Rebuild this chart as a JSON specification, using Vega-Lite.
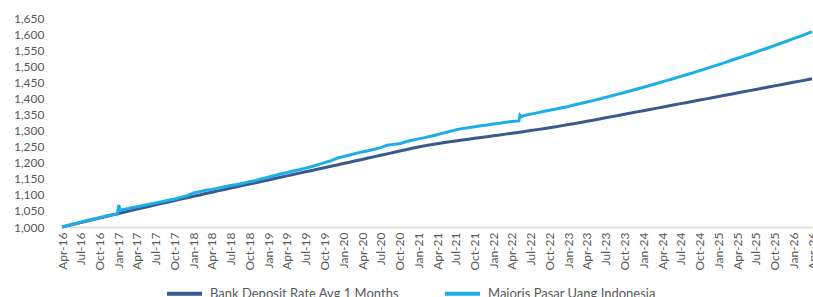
{
  "$schema": "https://vega.github.io/schema/vega-lite/v6.json",
  "width": 750,
  "height": 209,
  "autosize": {"type": "none"},
  "padding": {"left": 62, "top": 18, "right": 1, "bottom": 70},
  "background": "white",
  "config": {
    "view": {"stroke": null},
    "font": "Lato",
    "axis": {"labelFont": "Lato", "labelColor": "#595959", "grid": false},
    "legend": {"labelFont": "Lato"}
  },
  "data": {
    "values": [
      {"d":"2016/04/01","s":"B","v":1000},{"d":"2016/05/01","s":"B","v":1004.7},{"d":"2016/06/01","s":"B","v":1009.3},{"d":"2016/07/01","s":"B","v":1014},{"d":"2016/08/01","s":"B","v":1018.7},{"d":"2016/09/01","s":"B","v":1023.3},{"d":"2016/10/01","s":"B","v":1028},{"d":"2016/11/01","s":"B","v":1032.7},{"d":"2016/12/01","s":"B","v":1037.3},
      {"d":"2017/01/01","s":"B","v":1042},{"d":"2017/02/01","s":"B","v":1046.5},{"d":"2017/03/01","s":"B","v":1051},{"d":"2017/04/01","s":"B","v":1055.5},{"d":"2017/05/01","s":"B","v":1060},{"d":"2017/06/01","s":"B","v":1064.5},{"d":"2017/07/01","s":"B","v":1069},{"d":"2017/08/01","s":"B","v":1073.5},{"d":"2017/09/01","s":"B","v":1078},{"d":"2017/10/01","s":"B","v":1082.5},{"d":"2017/11/01","s":"B","v":1087},{"d":"2017/12/01","s":"B","v":1091.2},
      {"d":"2018/01/01","s":"B","v":1095.5},{"d":"2018/02/01","s":"B","v":1099.7},{"d":"2018/03/01","s":"B","v":1104},{"d":"2018/04/01","s":"B","v":1108.2},{"d":"2018/05/01","s":"B","v":1112.4},{"d":"2018/06/01","s":"B","v":1116.7},{"d":"2018/07/01","s":"B","v":1120.9},{"d":"2018/08/01","s":"B","v":1125.2},{"d":"2018/09/01","s":"B","v":1129.4},{"d":"2018/10/01","s":"B","v":1133.6},{"d":"2018/11/01","s":"B","v":1137.9},{"d":"2018/12/01","s":"B","v":1142.1},
      {"d":"2019/01/01","s":"B","v":1146.4},{"d":"2019/02/01","s":"B","v":1150.6},{"d":"2019/03/01","s":"B","v":1154.8},{"d":"2019/04/01","s":"B","v":1159.1},{"d":"2019/05/01","s":"B","v":1163.3},{"d":"2019/06/01","s":"B","v":1167.6},{"d":"2019/07/01","s":"B","v":1171.8},{"d":"2019/08/01","s":"B","v":1176},{"d":"2019/09/01","s":"B","v":1180.3},{"d":"2019/10/01","s":"B","v":1184.5},{"d":"2019/11/01","s":"B","v":1188.8},{"d":"2019/12/01","s":"B","v":1193},
      {"d":"2020/01/01","s":"B","v":1197.3},{"d":"2020/02/01","s":"B","v":1201.6},{"d":"2020/03/01","s":"B","v":1205.9},{"d":"2020/04/01","s":"B","v":1210.2},{"d":"2020/05/01","s":"B","v":1214.5},{"d":"2020/06/01","s":"B","v":1218.8},{"d":"2020/07/01","s":"B","v":1223.2},{"d":"2020/08/01","s":"B","v":1227.5},{"d":"2020/09/01","s":"B","v":1231.8},{"d":"2020/10/01","s":"B","v":1236.1},{"d":"2020/11/01","s":"B","v":1240.4},{"d":"2020/12/01","s":"B","v":1244.7},
      {"d":"2021/01/01","s":"B","v":1249},{"d":"2021/02/01","s":"B","v":1252.5},{"d":"2021/03/01","s":"B","v":1255.8},{"d":"2021/04/01","s":"B","v":1258.9},{"d":"2021/05/01","s":"B","v":1261.9},{"d":"2021/06/01","s":"B","v":1264.8},{"d":"2021/07/01","s":"B","v":1267.6},{"d":"2021/08/01","s":"B","v":1270.4},{"d":"2021/09/01","s":"B","v":1273.1},{"d":"2021/10/01","s":"B","v":1275.8},{"d":"2021/11/01","s":"B","v":1278.4},{"d":"2021/12/01","s":"B","v":1281},
      {"d":"2022/01/01","s":"B","v":1283.6},{"d":"2022/02/01","s":"B","v":1286.2},{"d":"2022/03/01","s":"B","v":1288.8},{"d":"2022/04/01","s":"B","v":1291.4},{"d":"2022/05/01","s":"B","v":1294.1},{"d":"2022/06/01","s":"B","v":1296.9},{"d":"2022/07/01","s":"B","v":1299.8},{"d":"2022/08/01","s":"B","v":1302.8},{"d":"2022/09/01","s":"B","v":1305.8},{"d":"2022/10/01","s":"B","v":1308.9},{"d":"2022/11/01","s":"B","v":1312.1},{"d":"2022/12/01","s":"B","v":1315.3},
      {"d":"2023/01/01","s":"B","v":1318.6},{"d":"2023/02/01","s":"B","v":1321.9},{"d":"2023/03/01","s":"B","v":1325.3},{"d":"2023/04/01","s":"B","v":1328.8},{"d":"2023/05/01","s":"B","v":1332.3},{"d":"2023/06/01","s":"B","v":1335.9},{"d":"2023/07/01","s":"B","v":1339.6},{"d":"2023/08/01","s":"B","v":1343.3},{"d":"2023/09/01","s":"B","v":1347},{"d":"2023/10/01","s":"B","v":1350.6},{"d":"2023/11/01","s":"B","v":1354.3},{"d":"2023/12/01","s":"B","v":1358},
      {"d":"2024/01/01","s":"B","v":1361.7},{"d":"2024/02/01","s":"B","v":1365.3},{"d":"2024/03/01","s":"B","v":1369},{"d":"2024/04/01","s":"B","v":1372.7},{"d":"2024/05/01","s":"B","v":1376.4},{"d":"2024/06/01","s":"B","v":1380},{"d":"2024/07/01","s":"B","v":1383.7},{"d":"2024/08/01","s":"B","v":1387.4},{"d":"2024/09/01","s":"B","v":1391.1},{"d":"2024/10/01","s":"B","v":1394.8},{"d":"2024/11/01","s":"B","v":1398.4},{"d":"2024/12/01","s":"B","v":1402.1},
      {"d":"2025/01/01","s":"B","v":1405.8},{"d":"2025/02/01","s":"B","v":1409.5},{"d":"2025/03/01","s":"B","v":1413.1},{"d":"2025/04/01","s":"B","v":1416.8},{"d":"2025/05/01","s":"B","v":1420.5},{"d":"2025/06/01","s":"B","v":1424.2},{"d":"2025/07/01","s":"B","v":1427.8},{"d":"2025/08/01","s":"B","v":1431.5},{"d":"2025/09/01","s":"B","v":1435.2},{"d":"2025/10/01","s":"B","v":1438.9},{"d":"2025/11/01","s":"B","v":1442.5},{"d":"2025/12/01","s":"B","v":1446.2},
      {"d":"2026/01/01","s":"B","v":1449.9},{"d":"2026/02/01","s":"B","v":1453.6},{"d":"2026/03/01","s":"B","v":1457.3},{"d":"2026/04/01","s":"B","v":1461},

      {"d":"2016/04/01","s":"M","v":1000},{"d":"2016/05/01","s":"M","v":1005},{"d":"2016/06/01","s":"M","v":1010},{"d":"2016/07/01","s":"M","v":1015},{"d":"2016/08/01","s":"M","v":1020},{"d":"2016/09/01","s":"M","v":1025},{"d":"2016/10/01","s":"M","v":1029},{"d":"2016/11/01","s":"M","v":1034},{"d":"2016/12/01","s":"M","v":1038},
      {"d":"2016/12/26","s":"M","v":1040},{"d":"2017/01/03","s":"M","v":1068},{"d":"2017/01/08","s":"M","v":1052},
      {"d":"2017/02/01","s":"M","v":1055},{"d":"2017/03/01","s":"M","v":1059},{"d":"2017/04/01","s":"M","v":1063},{"d":"2017/05/01","s":"M","v":1067},{"d":"2017/06/01","s":"M","v":1071},{"d":"2017/07/01","s":"M","v":1075},{"d":"2017/08/01","s":"M","v":1079},{"d":"2017/09/01","s":"M","v":1083},{"d":"2017/10/01","s":"M","v":1087},{"d":"2017/11/01","s":"M","v":1092},{"d":"2017/12/01","s":"M","v":1097},
      {"d":"2018/01/01","s":"M","v":1106},{"d":"2018/02/01","s":"M","v":1110},{"d":"2018/03/01","s":"M","v":1114},{"d":"2018/04/01","s":"M","v":1117},{"d":"2018/05/01","s":"M","v":1121},{"d":"2018/06/01","s":"M","v":1125},{"d":"2018/07/01","s":"M","v":1129},{"d":"2018/08/01","s":"M","v":1132},{"d":"2018/09/01","s":"M","v":1136},{"d":"2018/10/01","s":"M","v":1141},{"d":"2018/11/01","s":"M","v":1145},{"d":"2018/12/01","s":"M","v":1150},
      {"d":"2019/01/01","s":"M","v":1155},{"d":"2019/02/01","s":"M","v":1160},{"d":"2019/03/01","s":"M","v":1165},{"d":"2019/04/01","s":"M","v":1169},{"d":"2019/05/01","s":"M","v":1174},{"d":"2019/06/01","s":"M","v":1178},{"d":"2019/07/01","s":"M","v":1183},{"d":"2019/08/01","s":"M","v":1188},{"d":"2019/09/01","s":"M","v":1194},{"d":"2019/10/01","s":"M","v":1200},{"d":"2019/11/01","s":"M","v":1206},{"d":"2019/12/01","s":"M","v":1214},
      {"d":"2020/01/01","s":"M","v":1219},{"d":"2020/02/01","s":"M","v":1224},{"d":"2020/03/01","s":"M","v":1229},{"d":"2020/04/01","s":"M","v":1233},{"d":"2020/05/01","s":"M","v":1237},{"d":"2020/06/01","s":"M","v":1242},{"d":"2020/07/01","s":"M","v":1247},{"d":"2020/08/01","s":"M","v":1254},{"d":"2020/09/01","s":"M","v":1257},{"d":"2020/10/01","s":"M","v":1259},{"d":"2020/11/01","s":"M","v":1265},{"d":"2020/12/01","s":"M","v":1270},
      {"d":"2021/01/01","s":"M","v":1274},{"d":"2021/02/01","s":"M","v":1278},{"d":"2021/03/01","s":"M","v":1282},{"d":"2021/04/01","s":"M","v":1287},{"d":"2021/05/01","s":"M","v":1292},{"d":"2021/06/01","s":"M","v":1297},{"d":"2021/07/01","s":"M","v":1302},{"d":"2021/08/01","s":"M","v":1306},{"d":"2021/09/01","s":"M","v":1309},{"d":"2021/10/01","s":"M","v":1312},{"d":"2021/11/01","s":"M","v":1315},{"d":"2021/12/01","s":"M","v":1317},
      {"d":"2022/01/01","s":"M","v":1320},{"d":"2022/02/01","s":"M","v":1323},{"d":"2022/03/01","s":"M","v":1326},{"d":"2022/04/01","s":"M","v":1328},{"d":"2022/05/05","s":"M","v":1330},{"d":"2022/05/10","s":"M","v":1348},{"d":"2022/05/18","s":"M","v":1343},
      {"d":"2022/06/01","s":"M","v":1347},{"d":"2022/07/01","s":"M","v":1351},{"d":"2022/08/01","s":"M","v":1355},{"d":"2022/09/01","s":"M","v":1359},{"d":"2022/10/01","s":"M","v":1363},{"d":"2022/11/01","s":"M","v":1367},{"d":"2022/12/01","s":"M","v":1371},
      {"d":"2023/01/01","s":"M","v":1375},{"d":"2023/02/01","s":"M","v":1380},{"d":"2023/03/01","s":"M","v":1384},{"d":"2023/04/01","s":"M","v":1389},{"d":"2023/05/01","s":"M","v":1393},{"d":"2023/06/01","s":"M","v":1398},{"d":"2023/07/01","s":"M","v":1403},{"d":"2023/08/01","s":"M","v":1408.1},{"d":"2023/09/01","s":"M","v":1413.2},{"d":"2023/10/01","s":"M","v":1418.4},{"d":"2023/11/01","s":"M","v":1423.7},{"d":"2023/12/01","s":"M","v":1429.1},
      {"d":"2024/01/01","s":"M","v":1434.5},{"d":"2024/02/01","s":"M","v":1440},{"d":"2024/03/01","s":"M","v":1445.5},{"d":"2024/04/01","s":"M","v":1451.2},{"d":"2024/05/01","s":"M","v":1456.9},{"d":"2024/06/01","s":"M","v":1462.6},{"d":"2024/07/01","s":"M","v":1468.5},{"d":"2024/08/01","s":"M","v":1474.4},{"d":"2024/09/01","s":"M","v":1480.3},{"d":"2024/10/01","s":"M","v":1486.4},{"d":"2024/11/01","s":"M","v":1492.5},{"d":"2024/12/01","s":"M","v":1498.7},
      {"d":"2025/01/01","s":"M","v":1505},{"d":"2025/02/01","s":"M","v":1511.3},{"d":"2025/03/01","s":"M","v":1517.7},{"d":"2025/04/01","s":"M","v":1524.2},{"d":"2025/05/01","s":"M","v":1530.7},{"d":"2025/06/01","s":"M","v":1537.3},{"d":"2025/07/01","s":"M","v":1544},{"d":"2025/08/01","s":"M","v":1550.8},{"d":"2025/09/01","s":"M","v":1557.6},{"d":"2025/10/01","s":"M","v":1564.5},{"d":"2025/11/01","s":"M","v":1571.4},{"d":"2025/12/01","s":"M","v":1578.5},
      {"d":"2026/01/01","s":"M","v":1585.6},{"d":"2026/02/01","s":"M","v":1592.7},{"d":"2026/03/01","s":"M","v":1600},{"d":"2026/04/01","s":"M","v":1607.3}
    ]
  },
  "mark": {"type": "line", "strokeWidth": 3, "interpolate": "linear", "clip": false},
  "encoding": {
    "x": {
      "field": "d",
      "type": "temporal",
      "scale": {"domain": [{"year": 2016, "month": 4, "date": 1}, {"year": 2026, "month": 4, "date": 1}]},
      "axis": {
        "title": null,
        "format": "%b-%y",
        "tickCount": {"interval": "month", "step": 3},
        "labelAngle": -90,
        "labelFontSize": 12,
        "labelPadding": 5,
        "labelOverlap": false,
        "labelFlush": false,
        "ticks": false,
        "domainColor": "#D9D9D9",
        "domainWidth": 1.5
      }
    },
    "y": {
      "field": "v",
      "type": "quantitative",
      "scale": {"domain": [1000, 1650], "nice": false, "zero": false},
      "axis": {
        "title": null,
        "values": [1000,1050,1100,1150,1200,1250,1300,1350,1400,1450,1500,1550,1600,1650],
        "format": ",d",
        "labelFontSize": 12,
        "labelPadding": 18,
        "domain": false,
        "ticks": false
      }
    },
    "color": {
      "field": "s",
      "type": "nominal",
      "scale": {"domain": ["B", "M"], "range": ["#3A5A8E", "#1CAEE8"]},
      "legend": {
        "title": null,
        "orient": "none",
        "direction": "horizontal",
        "legendX": 103,
        "legendY": 256,
        "symbolType": "stroke",
        "symbolStrokeWidth": 4,
        "symbolSize": 1225,
        "labelFontSize": 13,
        "labelColor": "#595959",
        "labelOffset": 6,
        "columnPadding": 38,
        "labelLimit": 400,
        "labelExpr": "datum.label == 'B' ? 'Bank Deposit Rate Avg 1 Months' : 'Majoris Pasar Uang Indonesia'"
      }
    }
  }
}
